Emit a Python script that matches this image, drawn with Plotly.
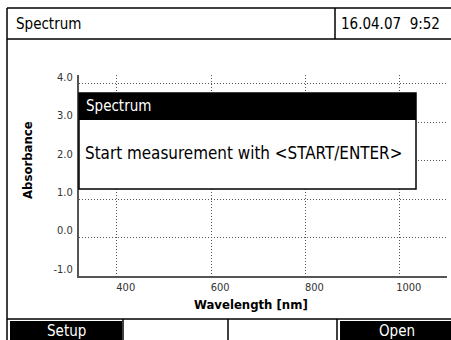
import plotly.graph_objects as go

# Achsenwerte (leeres Spektrum, nur Raster)
WL_TICKS = [400, 600, 800, 1000]
ABS_TICKS = [-1.0, 0.0, 1.0, 2.0, 3.0, 4.0]
ABS_LABELS = ["-1.0", "0.0", "1.0", "2.0", "3.0", "4.0"]
WL_RANGE = [320, 1100]
ABS_RANGE = [-1.0, 4.234]

FONT = "DejaVu Sans Condensed, DejaVu Sans, sans-serif"
W, H = 451, 340
L, R, T, B = 79, 447, 75, 276   # plot area in pixels


def px(x):
    return (x - L) / (R - L)


def py(y):
    return (B - y) / (B - T)


fig = go.Figure()
fig.add_trace(go.Scatter(x=[], y=[], mode="lines", showlegend=False))

shapes = []


def line(x0, y0, x1, y1, w=1.5):
    shapes.append(dict(type="line", xref="paper", yref="paper",
                       x0=px(x0), y0=py(y0), x1=px(x1), y1=py(y1),
                       line=dict(color="black", width=w), layer="above"))


def box(x0, y0, x1, y1, fill, border=None):
    shapes.append(dict(type="rect", xref="paper", yref="paper",
                       x0=px(x0), y0=py(y0), x1=px(x1), y1=py(y1),
                       fillcolor=fill,
                       line=dict(color=border or fill, width=1.5 if border else 0),
                       layer="above"))


# Rahmen + Kopfzeile
line(7, 8, 460, 8)
line(7, 8, 7, 345)
line(7, 39, 460, 39)
line(335, 8, 335, 39)

# Dialog
box(79, 93, 416, 189, "white", "black")
box(79, 93, 416, 120, "black")

# Softkey-Leiste
line(7, 319, 460, 319)
box(10, 321, 122, 345, "black")
box(340, 321, 460, 345, "black")
for xd in [123, 228, 337]:
    line(xd, 319, xd, 345)

ann = []


def text(x, y, s, size=15, color="black", anchor="left", bold=False, angle=0):
    ann.append(dict(xref="paper", yref="paper", x=px(x), y=py(y),
                    text=f"<b>{s}</b>" if bold else s, showarrow=False,
                    xanchor=anchor, yanchor="middle", textangle=angle,
                    font=dict(family=FONT, size=size, color=color)))


text(14, 24, "Spectrum")
text(339, 24, "16.04.07\u00a0\u00a09:52")
text(84, 106, "Spectrum", color="white")
text(83, 153, "Start measurement with &lt;START/ENTER&gt;", size=16.9)
text(66, 331, "Setup", color="white", anchor="center")
text(397, 331, "Open", color="white", anchor="center")
text(27, 160, "Absorbance", size=13, bold=True, anchor="center", angle=-90)
text(251, 304, "Wavelength [nm]", size=13, bold=True, anchor="center")

grid = dict(showgrid=True, gridcolor="#555", griddash="1px,2px", gridwidth=1,
            showline=True, linecolor="#555", linewidth=2,
            zeroline=False, ticks="",
            tickfont=dict(family=FONT, size=11, color="#333"))

fig.update_layout(
    width=W, height=H,
    margin=dict(l=L, r=W - R, t=T, b=H - B),
    paper_bgcolor="white", plot_bgcolor="white",
    shapes=shapes, annotations=ann,
    showlegend=False,
    xaxis=dict(range=WL_RANGE, tickvals=WL_TICKS,
               ticklabelshift=9, ticklabelstandoff=0, **grid),
    yaxis=dict(range=ABS_RANGE, tickvals=ABS_TICKS, ticktext=ABS_LABELS,
               ticklabelshift=-7, ticklabelstandoff=2, **grid),
)

# Browser-Standardrand entfernen, damit 451x340 genau passt
fig.write_html("out.html", config={"displayModeBar": False},
               post_script="document.body.style.margin='0';")
